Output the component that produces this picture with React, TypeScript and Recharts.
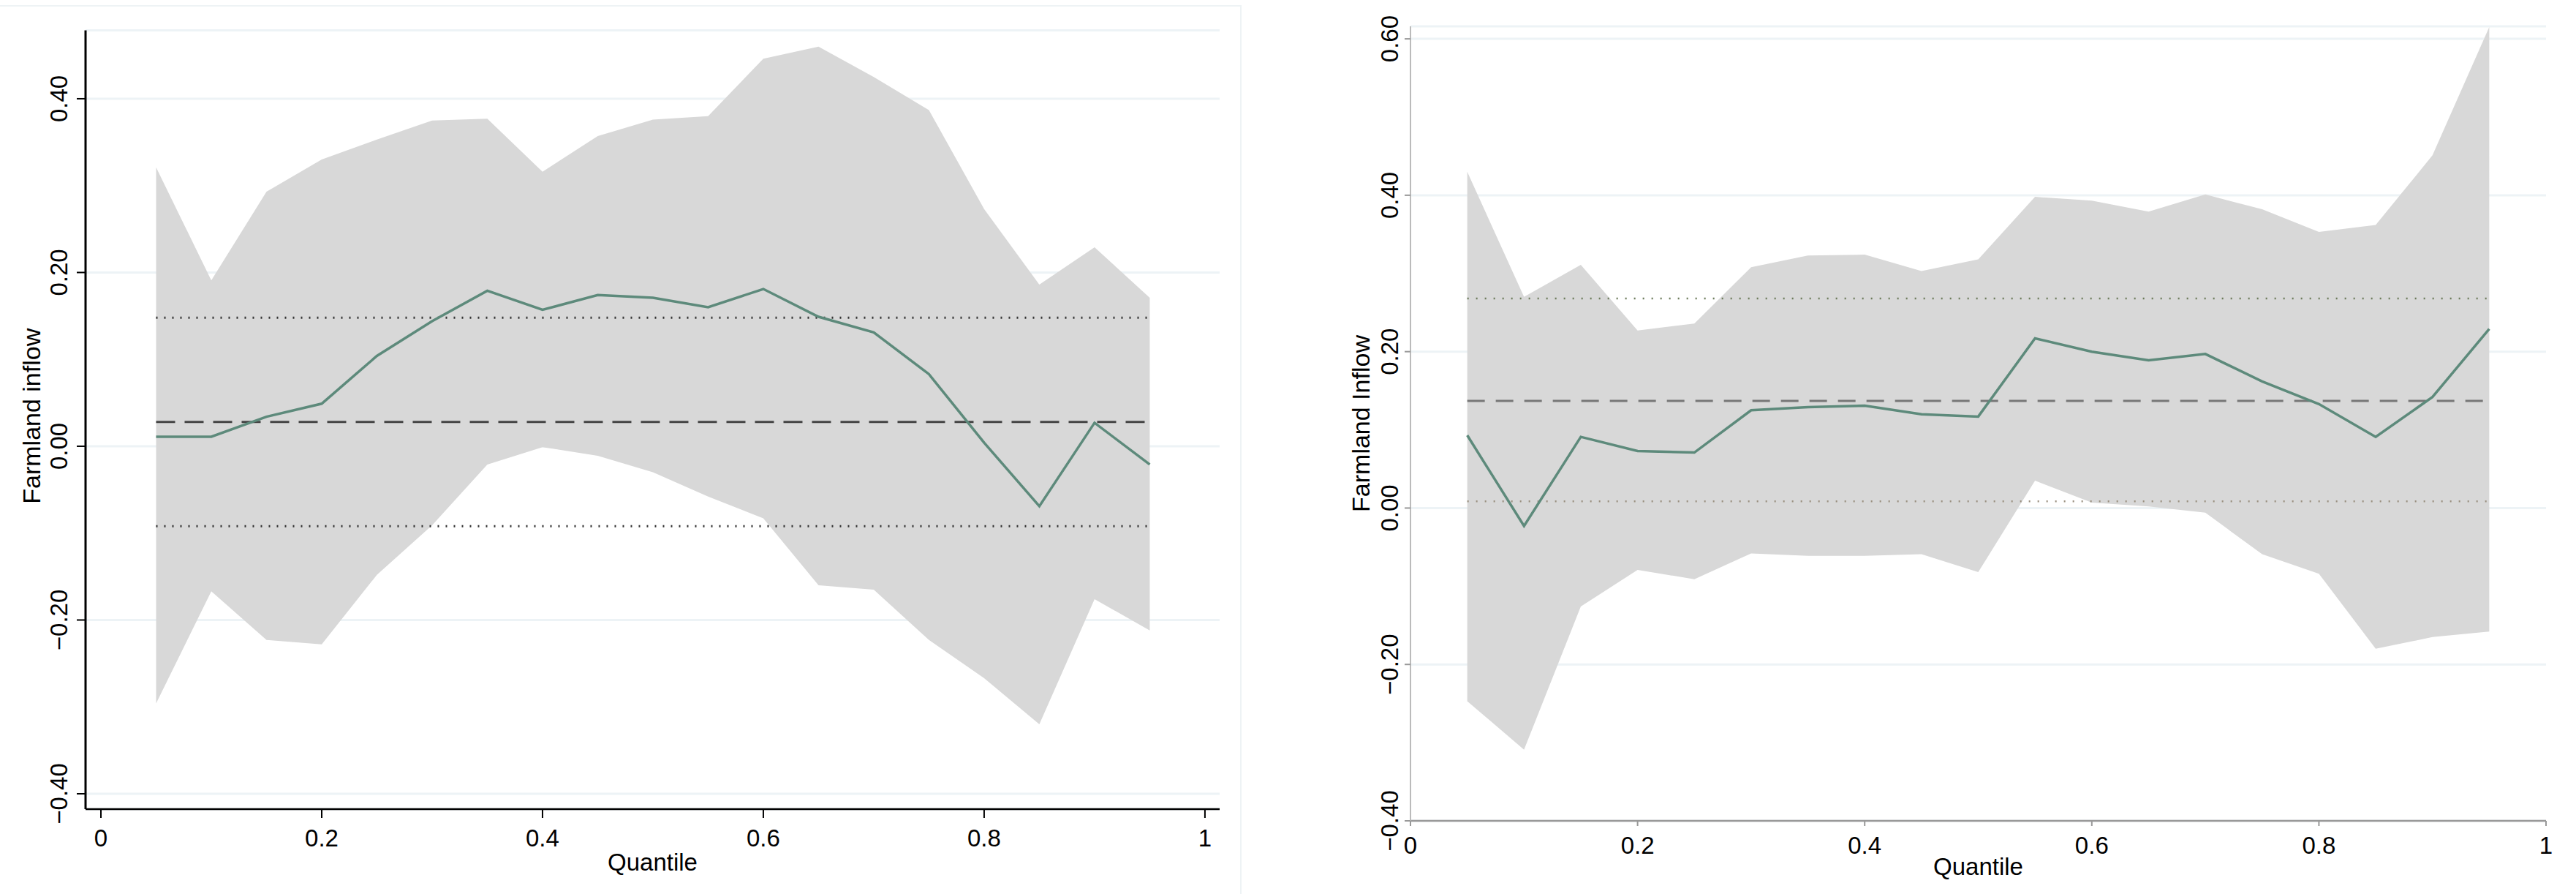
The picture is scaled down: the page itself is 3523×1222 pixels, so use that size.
import React from "react";
import { ComposedChart, Area, Line, XAxis, YAxis, CartesianGrid, Label } from "recharts";

const quantiles = [0.05, 0.1, 0.15, 0.2, 0.25, 0.3, 0.35, 0.4, 0.45, 0.5, 0.55, 0.6, 0.65, 0.7, 0.75, 0.8, 0.85, 0.9, 0.95];

const leftCoef = [0.011, 0.011, 0.034, 0.049, 0.104, 0.144, 0.179, 0.157, 0.174, 0.171, 0.160, 0.181, 0.149, 0.131, 0.083, 0.004, -0.069, 0.027, -0.021];
const leftHigh = [0.321, 0.191, 0.293, 0.330, 0.353, 0.375, 0.377, 0.316, 0.357, 0.376, 0.380, 0.446, 0.460, 0.425, 0.387, 0.273, 0.186, 0.229, 0.171];
const leftLow = [-0.296, -0.167, -0.223, -0.228, -0.148, -0.091, -0.021, -0.001, -0.011, -0.030, -0.058, -0.083, -0.160, -0.165, -0.223, -0.267, -0.320, -0.176, -0.212];
const leftOls = 0.028;
const leftOlsHigh = 0.148;
const leftOlsLow = -0.092;

const rightCoef = [0.093, -0.023, 0.091, 0.073, 0.071, 0.125, 0.129, 0.131, 0.120, 0.117, 0.217, 0.200, 0.189, 0.197, 0.162, 0.133, 0.091, 0.142, 0.229];
const rightHigh = [0.430, 0.270, 0.311, 0.227, 0.236, 0.308, 0.323, 0.324, 0.303, 0.318, 0.398, 0.393, 0.379, 0.401, 0.382, 0.353, 0.362, 0.451, 0.615];
const rightLow = [-0.247, -0.309, -0.126, -0.079, -0.091, -0.058, -0.061, -0.061, -0.059, -0.082, 0.035, 0.007, 0.002, -0.006, -0.059, -0.084, -0.180, -0.165, -0.158];
const rightOls = 0.137;
const rightOlsHigh = 0.268;
const rightOlsLow = 0.0085;

const xTicks = [0, 0.2, 0.4, 0.6, 0.8, 1];
const xTickLabels = ["0", "0.2", "0.4", "0.6", "0.8", "1"];
const leftYTicks = [-0.4, -0.2, 0, 0.2, 0.4];
const leftYTickLabels = ["\u22120.40", "\u22120.20", "0.00", "0.20", "0.40"];
const rightYTicks = [-0.4, -0.2, 0, 0.2, 0.4, 0.6];
const rightYTickLabels = ["\u22120.40", "\u22120.20", "0.00", "0.20", "0.40", "0.60"];

const FONT = "'Liberation Sans', Arial, Helvetica, sans-serif";

function buildRows(coef: number[], lo: number[], hi: number[], m: number, mLo: number, mHi: number) {
  return quantiles.map((q, i) => ({
    q,
    coef: coef[i],
    band: [lo[i], hi[i]],
    ols: m,
    olsLo: mLo,
    olsHi: mHi,
  }));
}

const leftRows = buildRows(leftCoef, leftLow, leftHigh, leftOls, leftOlsLow, leftOlsHigh);
const rightRows = buildRows(rightCoef, rightLow, rightHigh, rightOls, rightOlsLow, rightOlsHigh);

function makeYTick(ticks: number[], labels: string[], dx: number) {
  return (p: any) => {
    const idx = ticks.findIndex((t) => Math.abs(t - p.payload.value) < 1e-9);
    const txt = idx >= 0 ? labels[idx] : String(p.payload.value);
    const x = p.x + dx;
    return (
      <text x={x} y={p.y} transform={`rotate(-90, ${x}, ${p.y})`} textAnchor="middle" fontSize={33} fontFamily={FONT} fill="#000">
        {txt}
      </text>
    );
  };
}

function makeXTick(dy: number) {
  return (p: any) => {
    const idx = xTicks.findIndex((t) => Math.abs(t - p.payload.value) < 1e-9);
    const txt = idx >= 0 ? xTickLabels[idx] : String(p.payload.value);
    return (
      <text x={p.x} y={p.y + dy} textAnchor="middle" fontSize={33} fontFamily={FONT} fill="#000">
        {txt}
      </text>
    );
  };
}

function yLabel(text: string, dx: number, dy: number) {
  return (props: any) => {
    const vb = props.viewBox;
    const x = vb.x + dx;
    const y = vb.y + vb.height / 2 + dy;
    return (
      <text x={x} y={y} transform={`rotate(-90, ${x}, ${y})`} textAnchor="middle" fontSize={34} fontFamily={FONT} fill="#000">
        {text}
      </text>
    );
  };
}

function xLabel(text: string, dy: number) {
  return (props: any) => {
    const vb = props.viewBox;
    return (
      <text x={vb.x + vb.width / 2} y={vb.y + dy} textAnchor="middle" fontSize={33} fontFamily={FONT} fill="#000">
        {text}
      </text>
    );
  };
}

const LINE_GREEN = "#5d8a7b";
const BAND = "#d8d8d8";
const GRID = "#edf3f6";

export default function App() {
  return (
    <div style={{ position: "absolute", left: 0, top: 0, width: 3523, height: 1222, background: "#fff" }}>
      <div style={{ position: "absolute", left: -4, top: 7, width: 1700, height: 1230, borderTop: "2px solid #eef3f5", borderRight: "2px solid #eef3f5" }} />
      <div style={{ position: "absolute", left: 0, top: 0 }}>
        <ComposedChart width={1720} height={1222} data={leftRows} margin={{ top: 41.5, right: 52, bottom: 0, left: 0 }}>
          <CartesianGrid horizontal vertical={false} stroke={GRID} strokeWidth={3} />
          <XAxis
            dataKey="q"
            type="number"
            domain={[-0.0139, 1.0133]}
            allowDataOverflow
            ticks={xTicks}
            height={116}
            tickSize={12}
            tickMargin={0}
            axisLine={{ stroke: "#000", strokeWidth: 2.5 }}
            tickLine={{ stroke: "#000", strokeWidth: 2 }}
            tick={makeXTick(39)}
          >
            <Label content={xLabel("Quantile", 84)} />
          </XAxis>
          <YAxis
            type="number"
            domain={[-0.4177, 0.4787]}
            allowDataOverflow
            ticks={leftYTicks}
            width={117}
            tickSize={12}
            tickMargin={0}
            axisLine={{ stroke: "#000", strokeWidth: 3 }}
            tickLine={{ stroke: "#000", strokeWidth: 2 }}
            tick={makeYTick(leftYTicks, leftYTickLabels, -13)}
          >
            <Label content={yLabel("Farmland inflow", 55, -5)} />
          </YAxis>
          <Area dataKey="band" type="linear" fill={BAND} fillOpacity={1} stroke="none" isAnimationActive={false} activeDot={false} />
          <Line dataKey="olsHi" type="linear" stroke="#333" strokeWidth={3} strokeDasharray="2 9" dot={false} activeDot={false} isAnimationActive={false} />
          <Line dataKey="olsLo" type="linear" stroke="#333" strokeWidth={3} strokeDasharray="2 9" dot={false} activeDot={false} isAnimationActive={false} />
          <Line dataKey="ols" type="linear" stroke="#444" strokeWidth={3} strokeDasharray="26 13" dot={false} activeDot={false} isAnimationActive={false} />
          <Line dataKey="coef" type="linear" stroke={LINE_GREEN} strokeWidth={3.5} dot={false} activeDot={false} isAnimationActive={false} />
        </ComposedChart>
      </div>
      <div style={{ position: "absolute", left: 1740, top: 0 }}>
        <ComposedChart width={1783} height={1222} data={rightRows} margin={{ top: 36, right: 41, bottom: 0, left: 0 }}>
          <CartesianGrid horizontal vertical={false} stroke={GRID} strokeWidth={3} />
          <XAxis
            dataKey="q"
            type="number"
            domain={[0, 1]}
            allowDataOverflow
            ticks={xTicks}
            height={100}
            tickSize={7}
            tickMargin={0}
            axisLine={{ stroke: "#999", strokeWidth: 2.5 }}
            tickLine={{ stroke: "#999", strokeWidth: 2 }}
            tick={makeXTick(38)}
          >
            <Label content={xLabel("Quantile", 74)} />
          </XAxis>
          <YAxis
            type="number"
            domain={[-0.4, 0.616]}
            allowDataOverflow
            ticks={rightYTicks}
            width={189}
            tickSize={8}
            tickMargin={0}
            axisLine={{ stroke: "#bbb", strokeWidth: 2 }}
            tickLine={{ stroke: "#999", strokeWidth: 2 }}
            tick={makeYTick(rightYTicks, rightYTickLabels, -9)}
          >
            <Label content={yLabel("Farmland Inflow", 133, 0)} />
          </YAxis>
          <Area dataKey="band" type="linear" fill={BAND} fillOpacity={1} stroke="none" isAnimationActive={false} activeDot={false} />
          <Line dataKey="olsHi" type="linear" stroke="#6b7a5a" strokeWidth={2.5} strokeDasharray="2 10" dot={false} activeDot={false} isAnimationActive={false} />
          <Line dataKey="olsLo" type="linear" stroke="#9a9080" strokeWidth={2.5} strokeDasharray="2 10" dot={false} activeDot={false} isAnimationActive={false} />
          <Line dataKey="ols" type="linear" stroke="#777" strokeWidth={3} strokeDasharray="24 15" dot={false} activeDot={false} isAnimationActive={false} />
          <Line dataKey="coef" type="linear" stroke={LINE_GREEN} strokeWidth={3.5} dot={false} activeDot={false} isAnimationActive={false} />
        </ComposedChart>
      </div>
    </div>
  );
}
